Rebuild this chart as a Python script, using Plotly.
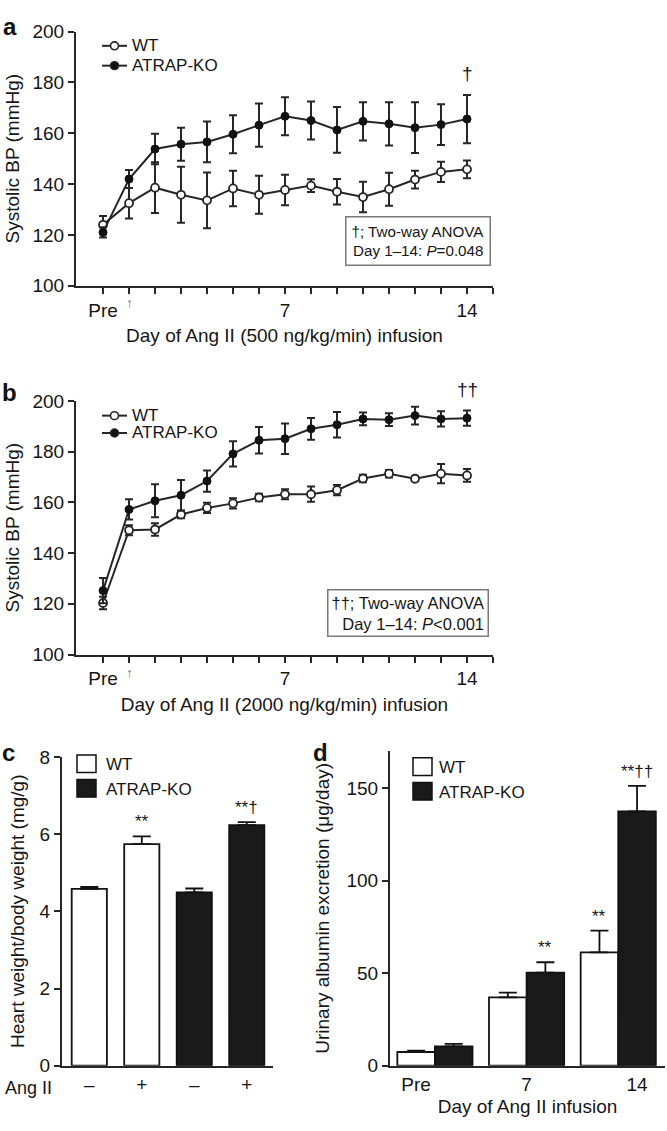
import plotly.graph_objects as go

# ---------------- data ----------------
days = list(range(15))  # 0 = Pre, 1..14 = infusion day
day_ticktext = ["Pre"] + [""] * 6 + ["7"] + [""] * 6 + ["14", ""]

# panel a: 500 ng/kg/min
a_wt = [124, 132.5, 138.6, 135.8, 133.6, 138.3, 135.8, 137.7, 139.4, 137.0, 134.9, 138.0, 141.8, 144.8, 145.8]
a_wt_err = [3.5, 6, 10, 11, 11, 7, 7.5, 6, 2.5, 5, 6, 6.5, 3.5, 4, 3.5]
a_ko = [121, 142, 153.8, 155.7, 156.6, 159.6, 163.2, 166.7, 165.0, 161.3, 164.7, 163.7, 162.2, 163.4, 165.6]
a_ko_err = [2, 3.5, 6, 6.5, 8, 7.5, 8.5, 7.5, 7.5, 9, 7.5, 8.5, 10, 8, 9.5]

# panel b: 2000 ng/kg/min
b_wt = [120.3, 149.0, 149.3, 155.2, 157.8, 159.6, 161.9, 163.2, 163.2, 164.8, 169.4, 171.3, 169.3, 171.3, 170.6]
b_wt_err = [2.5, 2, 2.5, 1.5, 2, 2, 1.5, 2, 3, 2, 1.5, 1.5, 1, 3.8, 2.5]
b_ko = [125.2, 157.2, 160.6, 162.8, 168.4, 179.1, 184.5, 185.1, 189.0, 190.6, 192.9, 192.6, 194.2, 192.9, 193.2]
b_ko_err = [5, 4, 6.5, 6, 4.2, 5, 5.2, 6, 4.3, 5, 2.5, 2.5, 3.5, 3, 3]

# panel c: heart weight / body weight
angii_labels = ["–", "+", "–", "+"]
hw_wt = [4.58, 5.74]
hw_wt_err = [0.05, 0.2]
hw_ko = [4.49, 6.23]
hw_ko_err = [0.1, 0.08]
hw_wt_sig = ["", "**"]
hw_ko_sig = ["", "**†"]

# panel d: urinary albumin excretion
d_days = ["Pre", "7", "14"]
ua_wt = [7.4, 36.9, 61.2]
ua_wt_err = [0.8, 2.6, 11.8]
ua_ko = [10.4, 50.3, 137.4]
ua_ko_err = [1.4, 5.6, 13.8]
ua_wt_sig = ["", "", "**"]
ua_ko_sig = ["", "**", "**††"]

series_names = ["WT", "ATRAP-KO"]

# ---------------- helpers ----------------
W, H = 667, 1131
def px(x):
    return x / W
def py(y):
    return 1 - y / H

LC = "#262626"
TXT = "#161616"
FONT = "Liberation Sans, Arial, sans-serif"

fig = go.Figure()

def line_traces(xa, ya, wt, wte, ko, koe):
    fig.add_trace(go.Scatter(
        x=days, y=wt, name=series_names[0], mode="lines+markers", showlegend=False,
        line=dict(color=LC, width=2),
        marker=dict(symbol="circle", size=8, color="white", line=dict(color=LC, width=1.8)),
        error_y=dict(type="data", array=wte, color=LC, thickness=2, width=4),
        xaxis=xa, yaxis=ya, cliponaxis=False))
    fig.add_trace(go.Scatter(
        x=days, y=ko, name=series_names[1], mode="lines+markers", showlegend=False,
        line=dict(color=LC, width=2),
        marker=dict(symbol="circle", size=8, color="#111", line=dict(color="#111", width=1)),
        error_y=dict(type="data", array=koe, color=LC, thickness=2, width=4),
        xaxis=xa, yaxis=ya, cliponaxis=False))

line_traces("x", "y", a_wt, a_wt_err, a_ko, a_ko_err)
line_traces("x2", "y2", b_wt, b_wt_err, b_ko, b_ko_err)

# panel c bars
pos_c = list(range(len(angii_labels)))
wt_pos_c = pos_c[:2]
ko_pos_c = pos_c[2:]
fig.add_trace(go.Bar(
    x=wt_pos_c, y=hw_wt, width=0.67, name=series_names[0], showlegend=False,
    marker=dict(color="white", line=dict(color="#111", width=1.8)),
    error_y=dict(type="data", array=hw_wt_err, arrayminus=[0] * len(hw_wt), symmetric=False,
                 color="#111", thickness=1.8, width=9),
    xaxis="x3", yaxis="y3"))
fig.add_trace(go.Bar(
    x=ko_pos_c, y=hw_ko, width=0.67, name=series_names[1], showlegend=False,
    marker=dict(color="#1a1a1a", line=dict(color="#111", width=1.8)),
    error_y=dict(type="data", array=hw_ko_err, arrayminus=[0] * len(hw_ko), symmetric=False,
                 color="#111", thickness=1.8, width=9),
    xaxis="x3", yaxis="y3"))

# panel d bars
bw = 0.41
pos_d = list(range(len(d_days)))
fig.add_trace(go.Bar(
    x=pos_d, y=ua_wt, width=bw, offset=-bw, name=series_names[0], showlegend=False,
    marker=dict(color="white", line=dict(color="#111", width=1.8)),
    error_y=dict(type="data", array=ua_wt_err, arrayminus=[0] * len(ua_wt), symmetric=False,
                 color="#111", thickness=1.8, width=9),
    xaxis="x4", yaxis="y4"))
fig.add_trace(go.Bar(
    x=pos_d, y=ua_ko, width=bw, offset=0, name=series_names[1], showlegend=False,
    marker=dict(color="#1a1a1a", line=dict(color="#111", width=1.8)),
    error_y=dict(type="data", array=ua_ko_err, arrayminus=[0] * len(ua_ko), symmetric=False,
                 color="#111", thickness=1.8, width=9),
    xaxis="x4", yaxis="y4"))

# ---------------- axes ----------------
ax_common = dict(showline=True, linecolor=LC, linewidth=2, showgrid=False, zeroline=False,
                 tickfont=dict(size=19, color=TXT), tickcolor=LC, tickwidth=2, ticklen=6)

xday = dict(ax_common, range=[-1.04, 15], tickmode="array", tickvals=days + [15],
            ticktext=day_ticktext, ticks="outside")
ybp = dict(ax_common, range=[100, 200], tickvals=[100, 120, 140, 160, 180, 200], ticks="outside",
           title=dict(text="Systolic BP (mmHg)", font=dict(size=19, color=TXT), standoff=8))

fig.update_layout(
    width=W, height=H, margin=dict(l=0, r=0, t=0, b=0),
    plot_bgcolor="white", paper_bgcolor="white",
    font=dict(family=FONT, color=TXT),
    barmode="overlay", showlegend=False,
    xaxis=dict(xday, domain=[px(76), px(493)], anchor="y",
               title=dict(text="Day of Ang II (500 ng/kg/min) infusion", font=dict(size=19, color=TXT), standoff=9)),
    yaxis=dict(ybp, domain=[py(281), py(22)], anchor="x"),
    xaxis2=dict(xday, domain=[px(76), px(493)], anchor="y2",
                title=dict(text="Day of Ang II (2000 ng/kg/min) infusion", font=dict(size=19, color=TXT), standoff=9)),
    yaxis2=dict(ybp, domain=[py(656.7), py(398.3)], anchor="x2"),
    xaxis3=dict(ax_common, domain=[px(62), px(273)], anchor="y3", range=[-0.52, 3.5],
                tickmode="array", tickvals=pos_c, ticktext=angii_labels, ticks=""),
    yaxis3=dict(ax_common, domain=[py(1075.7), py(761)], anchor="x3", range=[0, 8],
                tickvals=[0, 2, 4, 6, 8], ticks="outside",
                title=dict(text="Heart weight/body weight (mg/g)", font=dict(size=19, color=TXT), standoff=10)),
    xaxis4=dict(ax_common, domain=[px(390), px(665)], anchor="y4", range=[-0.49, 2.51],
                tickmode="array", tickvals=[pos_d[0] - bw / 2, pos_d[1], pos_d[2] + bw / 2],
                ticktext=d_days, ticks="",
                title=dict(text="Day of Ang II infusion", font=dict(size=19, color=TXT), standoff=6)),
    yaxis4=dict(ax_common, domain=[py(1075.7), py(755)], anchor="x4", range=[0, 170],
                tickvals=[0, 50, 100, 150], ticks="outside",
                title=dict(text="Urinary albumin excretion (μg/day)", font=dict(size=19, color=TXT), standoff=12)),
)

# ---------------- annotations & shapes ----------------
ann = []
shapes = []
# panel letters
for letter, x, y in [("a", 10, 17), ("b", 9, 390), ("c", 8, 757), ("d", 320, 757)]:
    ann.append(dict(text=f"<b>{letter}</b>", x=px(x), y=py(y), xref="paper", yref="paper",
                    xanchor="center", yanchor="middle", showarrow=False, font=dict(size=24, color="#111")))
# infusion-start arrows
for xa, y in [("x", 299), ("x2", 676)]:
    ann.append(dict(text="↑", x=1, xref=xa, y=py(y), yref="paper", showarrow=False,
                    font=dict(size=14, color="#7a7a7a"), xanchor="center", yanchor="middle"))
# daggers
ann.append(dict(text="†", x=days[-1], y=a_ko[-1] + a_ko_err[-1], xref="x", yref="y", yanchor="middle",
                yshift=21, showarrow=False, font=dict(size=19, color=TXT)))
ann.append(dict(text="††", x=days[-1], y=b_ko[-1] + b_ko_err[-1], xref="x2", yref="y2", yanchor="middle",
                yshift=21, showarrow=False, font=dict(size=19, color=TXT)))
# ANOVA boxes
ann.append(dict(text="†; Two-way ANOVA<br>Day 1–14: <i>P</i>=0.048", x=px(491), y=py(261),
                xref="paper", yref="paper", xanchor="right", yanchor="bottom", align="right",
                showarrow=False, bordercolor="#7a7a7a", borderwidth=1.5, borderpad=5,
                bgcolor="white", font=dict(size=15.2, color=TXT)))
ann.append(dict(text="††; Two-way ANOVA<br>Day 1–14: <i>P</i>&lt;0.001", x=px(489), y=py(638.5),
                xref="paper", yref="paper", xanchor="right", yanchor="bottom", align="right",
                showarrow=False, bordercolor="#7a7a7a", borderwidth=1.5, borderpad=3,
                bgcolor="white", font=dict(size=16.5, color=TXT)))
# line legends (panels a and b)
for (y_wt, y_ko) in [(36.5, 56.7), (413.3, 431)]:
    for yy, fill, name in [(y_wt, "white", series_names[0]), (y_ko, "#111", series_names[1])]:
        shapes.append(dict(type="line", xref="paper", yref="paper", x0=px(102), x1=px(127),
                           y0=py(yy), y1=py(yy), line=dict(color=LC, width=2)))
        shapes.append(dict(type="circle", xref="paper", yref="paper", x0=px(110.5), x1=px(118.5),
                           y0=py(yy + 4), y1=py(yy - 4), fillcolor=fill, line=dict(color=LC, width=1.6)))
        ann.append(dict(text=name, x=px(130), y=py(yy), xref="paper", yref="paper",
                        xanchor="left", yanchor="middle", showarrow=False, font=dict(size=17, color=TXT)))
# significance marks panel c
for xs, vals, errs, sig in [(wt_pos_c, hw_wt, hw_wt_err, hw_wt_sig), (ko_pos_c, hw_ko, hw_ko_err, hw_ko_sig)]:
    for xv, v, e, s in zip(xs, vals, errs, sig):
        if s:
            ann.append(dict(text=s, x=xv, y=v + e, xref="x3", yref="y3", yanchor="bottom", yshift=3,
                            showarrow=False, font=dict(size=17, color=TXT)))
# significance marks panel d
for off, vals, errs, sig in [(-bw / 2, ua_wt, ua_wt_err, ua_wt_sig), (bw / 2, ua_ko, ua_ko_err, ua_ko_sig)]:
    for xv, v, e, s in zip(pos_d, vals, errs, sig):
        if s:
            ann.append(dict(text=s, x=xv + off, y=v + e, xref="x4", yref="y4", yanchor="bottom", yshift=3,
                            showarrow=False, font=dict(size=17, color=TXT)))
# Ang II row label
ann.append(dict(text="Ang II", x=px(3), y=py(1098), xref="paper", yref="paper", xanchor="left",
                yanchor="middle", showarrow=False, font=dict(size=18, color=TXT)))
# box legends for bar panels
for (bx, by1, by2, tx) in [(77, 759, 777, 104), (413, 762, 780, 437)]:
    shapes.append(dict(type="rect", xref="paper", yref="paper", x0=px(bx), x1=px(bx + 19),
                       y0=py(by2), y1=py(by1), fillcolor="white", line=dict(color="#111", width=1.5)))
    shapes.append(dict(type="rect", xref="paper", yref="paper", x0=px(bx), x1=px(bx + 19),
                       y0=py(by2 + 25), y1=py(by1 + 25), fillcolor="#1a1a1a", line=dict(color="#111", width=1.5)))
    ann.append(dict(text=series_names[0], x=px(tx), y=py((by1 + by2) / 2 + 1), xref="paper", yref="paper",
                    xanchor="left", yanchor="middle", showarrow=False, font=dict(size=17, color=TXT)))
    ann.append(dict(text=series_names[1], x=px(tx), y=py((by1 + by2) / 2 + 26), xref="paper", yref="paper",
                    xanchor="left", yanchor="middle", showarrow=False, font=dict(size=17, color=TXT)))

fig.update_layout(annotations=ann, shapes=shapes)
fig.write_html("out.html", config={"displayModeBar": False},
               post_script="document.body.style.margin='0px';document.documentElement.style.overflow='hidden';")
